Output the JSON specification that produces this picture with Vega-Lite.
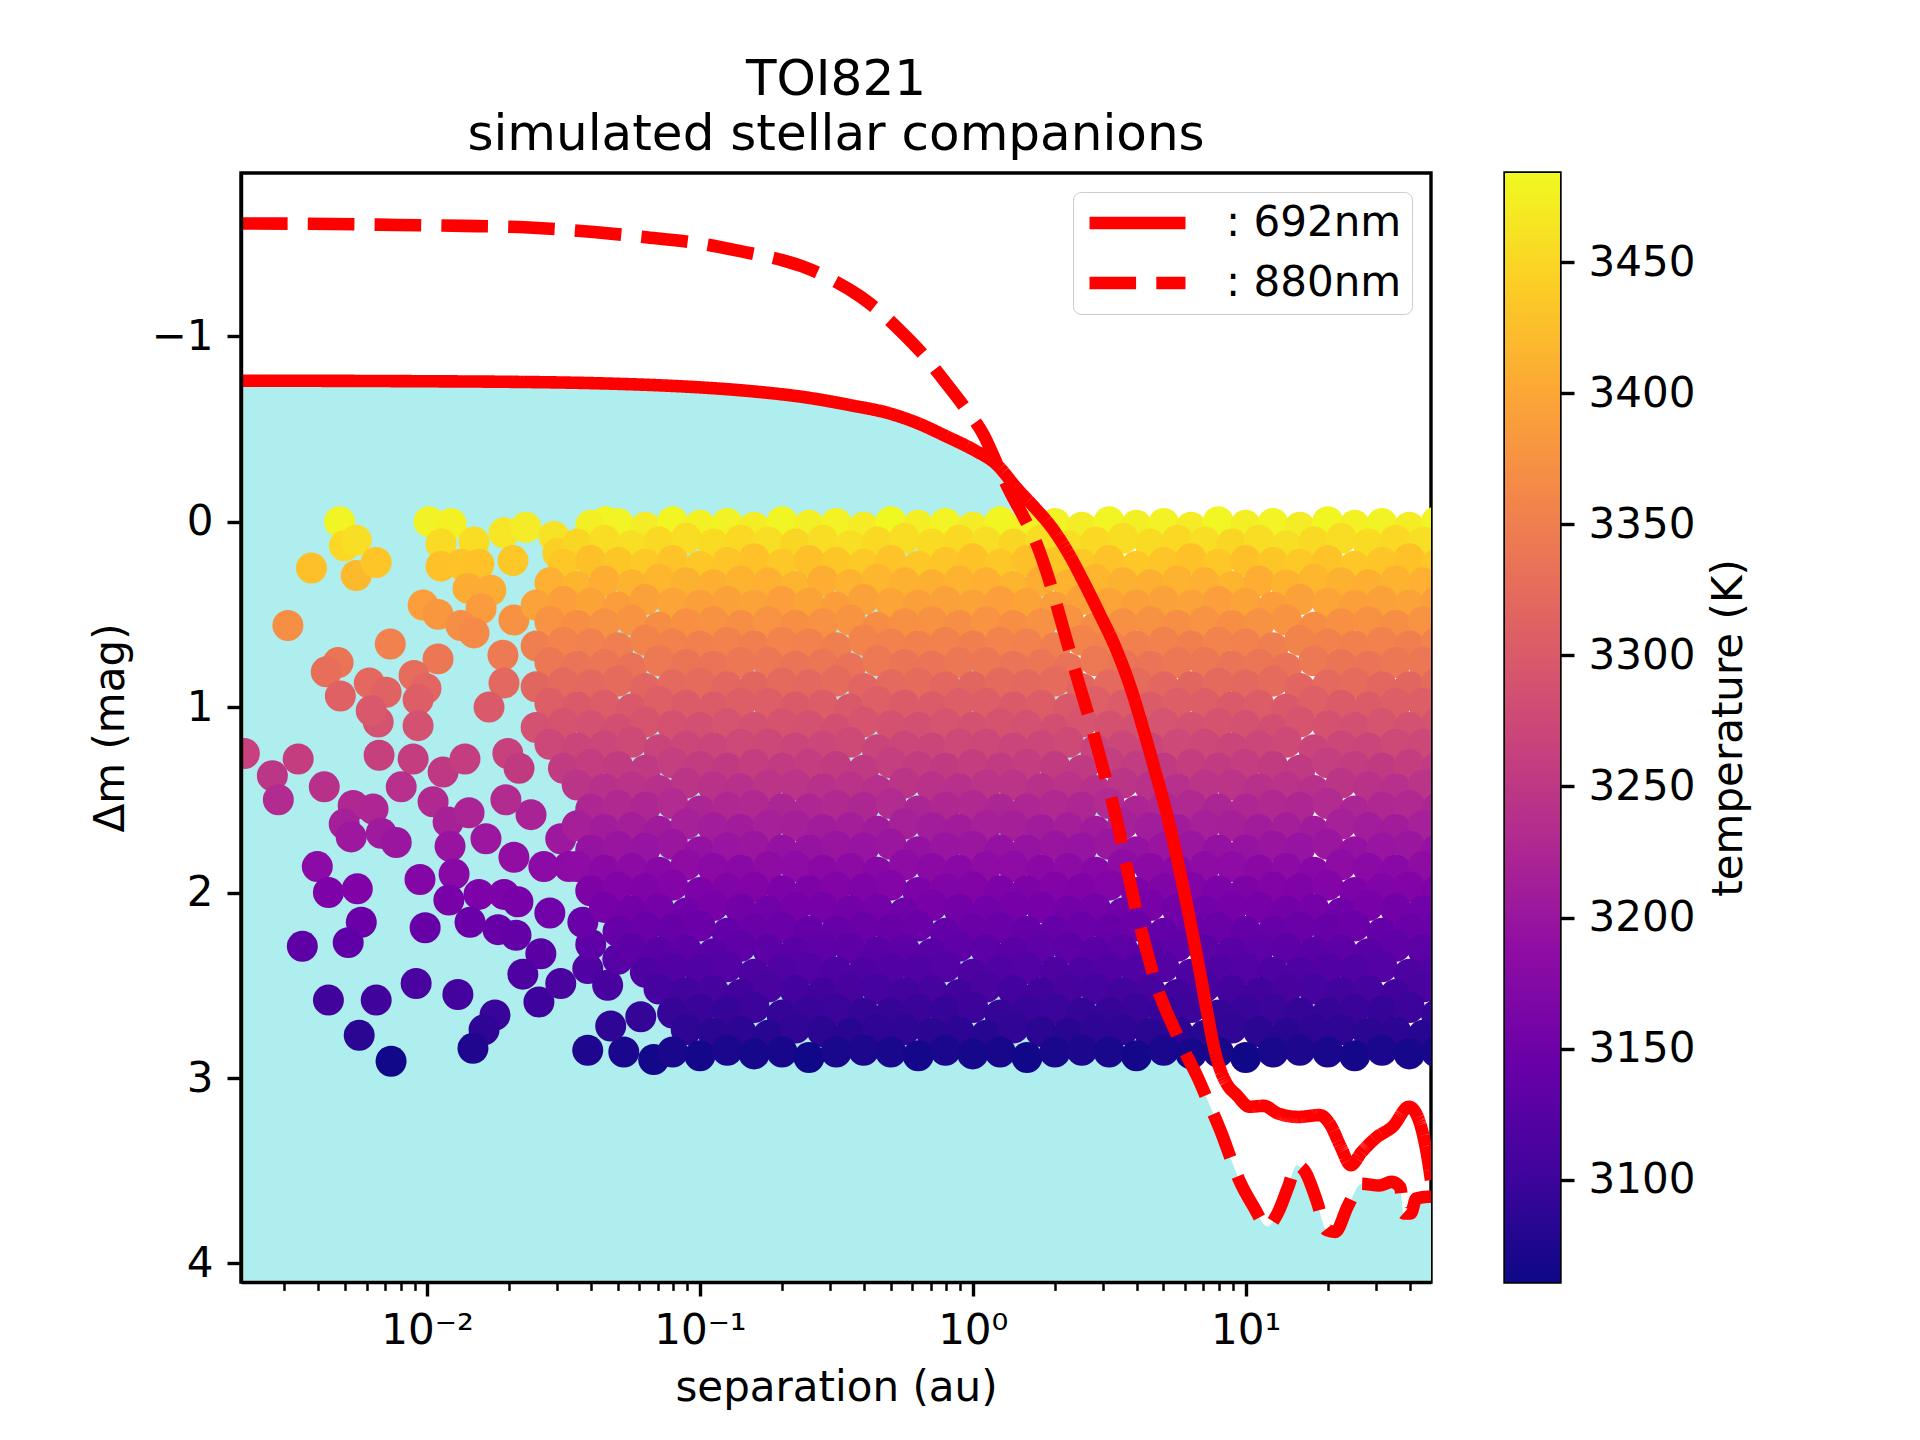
{
"$schema":"https://vega.github.io/schema/vega-lite/v6.json",
"background":"white",
"padding":{"left":87,"top":53,"right":10,"bottom":10},
"config":{
"font":"DejaVu Sans",
"view":{"stroke":"black","strokeWidth":3.4},
"axis":{"labelFont":"DejaVu Sans","titleFont":"DejaVu Sans","labelFontSize":42,"titleFontSize":42,"titleFontWeight":"normal","labelColor":"black","titleColor":"black","tickColor":"black","domainColor":"black","grid":false},
"legend":{"labelFont":"DejaVu Sans","labelFontSize":42,"labelColor":"black"},
"title":{"font":"DejaVu Sans","fontSize":50,"fontWeight":"normal","color":"black"}
},
"datasets":{
"pts":[
{"sep":0.00478,"dm":0,"T":3480},{"sep":0.00498,"dm":0.13,"T":3452},{"sep":0.0055,"dm":0.1,"T":3458},{"sep":0.00377,"dm":0.25,"T":3428},{"sep":0.0055,"dm":0.29,"T":3420},{"sep":0.00651,"dm":0.22,"T":3433},{"sep":0.00309,"dm":0.56,"T":3371},{"sep":0.01017,"dm":0,"T":3478},{"sep":0.01225,"dm":0.01,"T":3476},{"sep":0.01125,"dm":0.12,"T":3454},{"sep":0.01486,"dm":0.11,"T":3456},{"sep":0.01914,"dm":0.06,"T":3466},{"sep":0.02302,"dm":0.03,"T":3472},{"sep":0.01125,"dm":0.24,"T":3429},{"sep":0.01331,"dm":0.23,"T":3431},{"sep":0.01549,"dm":0.23,"T":3430},{"sep":0.02065,"dm":0.21,"T":3435},{"sep":0.02917,"dm":0.08,"T":3462},{"sep":0.03014,"dm":0.17,"T":3443},{"sep":0.04519,"dm":0,"T":3479},
{"sep":0.01412,"dm":0.36,"T":3406},{"sep":0.01713,"dm":0.37,"T":3405},{"sep":0.00967,"dm":0.45,"T":3390},{"sep":0.01097,"dm":0.5,"T":3381},{"sep":0.01577,"dm":0.47,"T":3386},{"sep":0.02081,"dm":0.53,"T":3375},{"sep":0.01331,"dm":0.56,"T":3370},{"sep":0.01486,"dm":0.6,"T":3364},{"sep":0.00733,"dm":0.66,"T":3354},{"sep":0.01897,"dm":0.72,"T":3344},{"sep":0.01097,"dm":0.74,"T":3340},{"sep":0.00472,"dm":0.76,"T":3337},{"sep":0.00427,"dm":0.81,"T":3330},{"sep":0.00481,"dm":0.94,"T":3310},{"sep":0.00614,"dm":0.87,"T":3321},{"sep":0.00708,"dm":0.92,"T":3313},{"sep":0.00896,"dm":0.83,"T":3327},{"sep":0.00991,"dm":0.9,"T":3316},{"sep":0.00927,"dm":0.96,"T":3306},{"sep":0.01914,"dm":0.87,"T":3320},
{"sep":0.01687,"dm":1,"T":3300},{"sep":0.00662,"dm":1.08,"T":3289},{"sep":0.00624,"dm":1.02,"T":3298},{"sep":0.00927,"dm":1.1,"T":3286},{"sep":0.00214,"dm":1.25,"T":3264},{"sep":0.00337,"dm":1.28,"T":3260},{"sep":0.00271,"dm":1.37,"T":3248},{"sep":0.00285,"dm":1.5,"T":3231},{"sep":0.00667,"dm":1.26,"T":3263},{"sep":0.00889,"dm":1.28,"T":3260},{"sep":0.01145,"dm":1.35,"T":3251},{"sep":0.01377,"dm":1.28,"T":3259},{"sep":0.0042,"dm":1.43,"T":3240},{"sep":0.00804,"dm":1.43,"T":3239},{"sep":0.01052,"dm":1.51,"T":3229},{"sep":0.00536,"dm":1.53,"T":3227},{"sep":0.00634,"dm":1.55,"T":3224},{"sep":0.00497,"dm":1.63,"T":3213},{"sep":0.00527,"dm":1.7,"T":3203},{"sep":0.00679,"dm":1.68,"T":3206},
{"sep":0.00771,"dm":1.73,"T":3200},{"sep":0.01194,"dm":1.62,"T":3215},{"sep":0.01425,"dm":1.57,"T":3221},{"sep":0.01214,"dm":1.75,"T":3197},{"sep":0.01644,"dm":1.71,"T":3202},{"sep":0.00396,"dm":1.86,"T":3183},{"sep":0.00435,"dm":2,"T":3166},{"sep":0.00555,"dm":1.98,"T":3168},{"sep":0.00942,"dm":1.93,"T":3175},{"sep":0.01256,"dm":1.9,"T":3179},{"sep":0.01202,"dm":2.04,"T":3161},{"sep":0.00574,"dm":2.16,"T":3147},{"sep":0.00514,"dm":2.27,"T":3134},{"sep":0.00349,"dm":2.29,"T":3132},{"sep":0.00984,"dm":2.19,"T":3143},{"sep":0.01549,"dm":2.01,"T":3165},{"sep":0.01914,"dm":2.01,"T":3166},{"sep":0.02153,"dm":2.05,"T":3160},{"sep":0.01437,"dm":2.16,"T":3146},{"sep":0.0182,"dm":2.2,"T":3142},
{"sep":0.02118,"dm":2.23,"T":3138},{"sep":0.02612,"dm":2.33,"T":3128},{"sep":0.02818,"dm":2.11,"T":3153},{"sep":0.00435,"dm":2.58,"T":3103},{"sep":0.00651,"dm":2.58,"T":3102},{"sep":0.00912,"dm":2.49,"T":3111},{"sep":0.01297,"dm":2.55,"T":3105},{"sep":0.00564,"dm":2.77,"T":3082},{"sep":0.00738,"dm":2.91,"T":3063},{"sep":0.01774,"dm":2.66,"T":3094},{"sep":0.01618,"dm":2.74,"T":3086},{"sep":0.01473,"dm":2.84,"T":3073},{"sep":0.02244,"dm":2.44,"T":3116},{"sep":0.0257,"dm":2.59,"T":3100},{"sep":0.0309,"dm":2.49,"T":3110},{"sep":0.03882,"dm":2.41,"T":3119},{"sep":0.03981,"dm":2.28,"T":3133},{"sep":0.03724,"dm":2.16,"T":3146},{"sep":0.02404,"dm":1.58,"T":3220},{"sep":0.0309,"dm":1.71,"T":3203},
{"sep":0.03311,"dm":1.86,"T":3184},{"sep":0.02081,"dm":1.81,"T":3190},{"sep":0.02679,"dm":1.86,"T":3183},{"sep":0.01977,"dm":1.25,"T":3265},{"sep":0.02173,"dm":1.33,"T":3254},{"sep":0.01945,"dm":1.5,"T":3232},{"sep":0.0388,"dm":2.85,"T":3072},{"sep":0.0459,"dm":2.5,"T":3109},{"sep":0.05,"dm":2.36,"T":3124},{"sep":0.0526,"dm":2.86,"T":3070},{"sep":0.0607,"dm":2.67,"T":3091},{"sep":0.0677,"dm":2.9,"T":3065},{"sep":0.0471,"dm":2.72,"T":3086},{"sep":0.0718,"dm":2.45,"T":3114},
{"sep":0.0398,"dm":0.02,"T":3475},{"sep":0.0501,"dm":0.01,"T":3479},{"sep":0.0631,"dm":0.03,"T":3472},{"sep":0.0794,"dm":0,"T":3481},{"sep":0.1,"dm":0.02,"T":3476},{"sep":0.126,"dm":0.01,"T":3478},{"sep":0.158,"dm":0.03,"T":3473},{"sep":0.2,"dm":0,"T":3480},{"sep":0.251,"dm":0.02,"T":3475},{"sep":0.316,"dm":0.01,"T":3477},{"sep":0.398,"dm":0.03,"T":3471},{"sep":0.501,"dm":0,"T":3483},{"sep":0.631,"dm":0.02,"T":3474},{"sep":0.794,"dm":0.01,"T":3479},{"sep":1,"dm":0.03,"T":3472},{"sep":1.26,"dm":0,"T":3481},{"sep":1.58,"dm":0.02,"T":3476},{"sep":2,"dm":0.01,"T":3478},{"sep":2.51,"dm":0.03,"T":3473},{"sep":3.16,"dm":0,"T":3480},{"sep":3.98,"dm":0.02,"T":3475},{"sep":5.01,"dm":0.01,"T":3477},{"sep":6.31,"dm":0.03,"T":3471},{"sep":7.94,"dm":0,"T":3482},{"sep":10,"dm":0.02,"T":3474},{"sep":12.6,"dm":0.01,"T":3479},{"sep":15.8,"dm":0.03,"T":3472},{"sep":20,"dm":0,"T":3481},{"sep":25.1,"dm":0.02,"T":3476},{"sep":31.6,"dm":0.01,"T":3478},{"sep":39.8,"dm":0.03,"T":3473},{"sep":50.1,"dm":0,"T":3480},
{"sep":0.0355,"dm":0.12,"T":3450},{"sep":0.0447,"dm":0.1,"T":3456},{"sep":0.0562,"dm":0.13,"T":3459},{"sep":0.0708,"dm":0.11,"T":3453},{"sep":0.0891,"dm":0.09,"T":3457},{"sep":0.112,"dm":0.12,"T":3455},{"sep":0.141,"dm":0.1,"T":3452},{"sep":0.178,"dm":0.11,"T":3458},{"sep":0.224,"dm":0.12,"T":3450},{"sep":0.282,"dm":0.1,"T":3456},{"sep":0.355,"dm":0.13,"T":3459},{"sep":0.447,"dm":0.11,"T":3453},{"sep":0.562,"dm":0.09,"T":3457},{"sep":0.708,"dm":0.12,"T":3455},{"sep":0.891,"dm":0.1,"T":3452},{"sep":1.12,"dm":0.11,"T":3458},{"sep":1.41,"dm":0.12,"T":3450},{"sep":1.78,"dm":0.1,"T":3456},{"sep":2.24,"dm":0.13,"T":3459},{"sep":2.82,"dm":0.11,"T":3453},{"sep":3.55,"dm":0.09,"T":3457},{"sep":4.47,"dm":0.12,"T":3455},{"sep":5.62,"dm":0.1,"T":3452},{"sep":7.08,"dm":0.11,"T":3458},{"sep":8.91,"dm":0.12,"T":3450},{"sep":11.2,"dm":0.1,"T":3456},{"sep":14.1,"dm":0.13,"T":3459},{"sep":17.8,"dm":0.11,"T":3453},{"sep":22.4,"dm":0.09,"T":3457},{"sep":28.2,"dm":0.12,"T":3455},{"sep":35.5,"dm":0.1,"T":3452},{"sep":44.7,"dm":0.11,"T":3458},
{"sep":0.0316,"dm":0.23,"T":3436},{"sep":0.0398,"dm":0.21,"T":3428},{"sep":0.0501,"dm":0.22,"T":3434},{"sep":0.0631,"dm":0.23,"T":3437},{"sep":0.0794,"dm":0.21,"T":3431},{"sep":0.1,"dm":0.24,"T":3435},{"sep":0.126,"dm":0.22,"T":3433},{"sep":0.158,"dm":0.2,"T":3430},{"sep":0.2,"dm":0.23,"T":3436},{"sep":0.251,"dm":0.21,"T":3428},{"sep":0.316,"dm":0.22,"T":3434},{"sep":0.398,"dm":0.23,"T":3437},{"sep":0.501,"dm":0.21,"T":3431},{"sep":0.631,"dm":0.24,"T":3435},{"sep":0.794,"dm":0.22,"T":3433},{"sep":1,"dm":0.2,"T":3430},{"sep":1.26,"dm":0.23,"T":3436},{"sep":1.58,"dm":0.21,"T":3428},{"sep":2,"dm":0.22,"T":3434},{"sep":2.51,"dm":0.23,"T":3437},{"sep":3.16,"dm":0.21,"T":3431},{"sep":3.98,"dm":0.24,"T":3435},{"sep":5.01,"dm":0.22,"T":3433},{"sep":6.31,"dm":0.2,"T":3430},{"sep":7.94,"dm":0.23,"T":3436},{"sep":10,"dm":0.21,"T":3428},{"sep":12.6,"dm":0.22,"T":3434},{"sep":15.8,"dm":0.23,"T":3437},{"sep":20,"dm":0.21,"T":3431},{"sep":25.1,"dm":0.24,"T":3435},{"sep":31.6,"dm":0.22,"T":3433},{"sep":39.8,"dm":0.2,"T":3430},{"sep":50.1,"dm":0.23,"T":3436},
{"sep":0.0282,"dm":0.33,"T":3410},{"sep":0.0355,"dm":0.35,"T":3415},{"sep":0.0447,"dm":0.32,"T":3408},{"sep":0.0562,"dm":0.34,"T":3413},{"sep":0.0708,"dm":0.31,"T":3417},{"sep":0.0891,"dm":0.33,"T":3411},{"sep":0.112,"dm":0.34,"T":3409},{"sep":0.141,"dm":0.32,"T":3414},{"sep":0.178,"dm":0.33,"T":3410},{"sep":0.224,"dm":0.35,"T":3415},{"sep":0.282,"dm":0.32,"T":3408},{"sep":0.355,"dm":0.34,"T":3413},{"sep":0.447,"dm":0.31,"T":3417},{"sep":0.562,"dm":0.33,"T":3411},{"sep":0.708,"dm":0.34,"T":3409},{"sep":0.891,"dm":0.32,"T":3414},{"sep":1.12,"dm":0.33,"T":3410},{"sep":1.41,"dm":0.35,"T":3415},{"sep":1.78,"dm":0.32,"T":3408},{"sep":2.24,"dm":0.34,"T":3413},{"sep":2.82,"dm":0.31,"T":3417},{"sep":3.55,"dm":0.33,"T":3411},{"sep":4.47,"dm":0.34,"T":3409},{"sep":5.62,"dm":0.32,"T":3414},{"sep":7.08,"dm":0.33,"T":3410},{"sep":8.91,"dm":0.35,"T":3415},{"sep":11.2,"dm":0.32,"T":3408},{"sep":14.1,"dm":0.34,"T":3413},{"sep":17.8,"dm":0.31,"T":3417},{"sep":22.4,"dm":0.33,"T":3411},{"sep":28.2,"dm":0.34,"T":3409},{"sep":35.5,"dm":0.32,"T":3414},{"sep":44.7,"dm":0.33,"T":3410},
{"sep":0.0251,"dm":0.45,"T":3395},{"sep":0.0316,"dm":0.43,"T":3390},{"sep":0.0398,"dm":0.44,"T":3396},{"sep":0.0501,"dm":0.46,"T":3389},{"sep":0.0631,"dm":0.42,"T":3393},{"sep":0.0794,"dm":0.44,"T":3397},{"sep":0.1,"dm":0.45,"T":3391},{"sep":0.126,"dm":0.43,"T":3394},{"sep":0.158,"dm":0.45,"T":3395},{"sep":0.2,"dm":0.43,"T":3390},{"sep":0.251,"dm":0.44,"T":3396},{"sep":0.316,"dm":0.46,"T":3389},{"sep":0.398,"dm":0.42,"T":3393},{"sep":0.501,"dm":0.44,"T":3397},{"sep":0.631,"dm":0.45,"T":3391},{"sep":0.794,"dm":0.43,"T":3394},{"sep":1,"dm":0.45,"T":3395},{"sep":1.26,"dm":0.43,"T":3390},{"sep":1.58,"dm":0.44,"T":3396},{"sep":2,"dm":0.46,"T":3389},{"sep":2.51,"dm":0.42,"T":3393},{"sep":3.16,"dm":0.44,"T":3397},{"sep":3.98,"dm":0.45,"T":3391},{"sep":5.01,"dm":0.43,"T":3394},{"sep":6.31,"dm":0.45,"T":3395},{"sep":7.94,"dm":0.43,"T":3390},{"sep":10,"dm":0.44,"T":3396},{"sep":12.6,"dm":0.46,"T":3389},{"sep":15.8,"dm":0.42,"T":3393},{"sep":20,"dm":0.44,"T":3397},{"sep":25.1,"dm":0.45,"T":3391},{"sep":31.6,"dm":0.43,"T":3394},{"sep":39.8,"dm":0.45,"T":3395},{"sep":50.1,"dm":0.43,"T":3390},
{"sep":0.0282,"dm":0.54,"T":3376},{"sep":0.0355,"dm":0.56,"T":3371},{"sep":0.0447,"dm":0.55,"T":3374},{"sep":0.0562,"dm":0.53,"T":3378},{"sep":0.0708,"dm":0.57,"T":3369},{"sep":0.0891,"dm":0.55,"T":3373},{"sep":0.112,"dm":0.54,"T":3375},{"sep":0.141,"dm":0.56,"T":3370},{"sep":0.178,"dm":0.54,"T":3376},{"sep":0.224,"dm":0.56,"T":3371},{"sep":0.282,"dm":0.55,"T":3374},{"sep":0.355,"dm":0.53,"T":3378},{"sep":0.447,"dm":0.57,"T":3369},{"sep":0.562,"dm":0.55,"T":3373},{"sep":0.708,"dm":0.54,"T":3375},{"sep":0.891,"dm":0.56,"T":3370},{"sep":1.12,"dm":0.54,"T":3376},{"sep":1.41,"dm":0.56,"T":3371},{"sep":1.78,"dm":0.55,"T":3374},{"sep":2.24,"dm":0.53,"T":3378},{"sep":2.82,"dm":0.57,"T":3369},{"sep":3.55,"dm":0.55,"T":3373},{"sep":4.47,"dm":0.54,"T":3375},{"sep":5.62,"dm":0.56,"T":3370},{"sep":7.08,"dm":0.54,"T":3376},{"sep":8.91,"dm":0.56,"T":3371},{"sep":11.2,"dm":0.55,"T":3374},{"sep":14.1,"dm":0.53,"T":3378},{"sep":17.8,"dm":0.57,"T":3369},{"sep":22.4,"dm":0.55,"T":3373},{"sep":28.2,"dm":0.54,"T":3375},{"sep":35.5,"dm":0.56,"T":3370},{"sep":44.7,"dm":0.54,"T":3376},
{"sep":0.0251,"dm":0.67,"T":3352},{"sep":0.0316,"dm":0.65,"T":3357},{"sep":0.0398,"dm":0.66,"T":3354},{"sep":0.0501,"dm":0.68,"T":3350},{"sep":0.0631,"dm":0.64,"T":3358},{"sep":0.0794,"dm":0.66,"T":3355},{"sep":0.1,"dm":0.67,"T":3353},{"sep":0.126,"dm":0.65,"T":3356},{"sep":0.158,"dm":0.67,"T":3352},{"sep":0.2,"dm":0.65,"T":3357},{"sep":0.251,"dm":0.66,"T":3354},{"sep":0.316,"dm":0.68,"T":3350},{"sep":0.398,"dm":0.64,"T":3358},{"sep":0.501,"dm":0.66,"T":3355},{"sep":0.631,"dm":0.67,"T":3353},{"sep":0.794,"dm":0.65,"T":3356},{"sep":1,"dm":0.67,"T":3352},{"sep":1.26,"dm":0.65,"T":3357},{"sep":1.58,"dm":0.66,"T":3354},{"sep":2,"dm":0.68,"T":3350},{"sep":2.51,"dm":0.64,"T":3358},{"sep":3.16,"dm":0.66,"T":3355},{"sep":3.98,"dm":0.67,"T":3353},{"sep":5.01,"dm":0.65,"T":3356},{"sep":6.31,"dm":0.67,"T":3352},{"sep":7.94,"dm":0.65,"T":3357},{"sep":10,"dm":0.66,"T":3354},{"sep":12.6,"dm":0.68,"T":3350},{"sep":15.8,"dm":0.64,"T":3358},{"sep":20,"dm":0.66,"T":3355},{"sep":25.1,"dm":0.67,"T":3353},{"sep":31.6,"dm":0.65,"T":3356},{"sep":39.8,"dm":0.67,"T":3352},{"sep":50.1,"dm":0.65,"T":3357},
{"sep":0.0282,"dm":0.76,"T":3340},{"sep":0.0355,"dm":0.78,"T":3336},{"sep":0.0447,"dm":0.77,"T":3339},{"sep":0.0562,"dm":0.79,"T":3334},{"sep":0.0708,"dm":0.75,"T":3342},{"sep":0.0891,"dm":0.77,"T":3337},{"sep":0.112,"dm":0.78,"T":3335},{"sep":0.141,"dm":0.76,"T":3341},{"sep":0.178,"dm":0.76,"T":3340},{"sep":0.224,"dm":0.78,"T":3336},{"sep":0.282,"dm":0.77,"T":3339},{"sep":0.355,"dm":0.79,"T":3334},{"sep":0.447,"dm":0.75,"T":3342},{"sep":0.562,"dm":0.77,"T":3337},{"sep":0.708,"dm":0.78,"T":3335},{"sep":0.891,"dm":0.76,"T":3341},{"sep":1.12,"dm":0.76,"T":3340},{"sep":1.41,"dm":0.78,"T":3336},{"sep":1.78,"dm":0.77,"T":3339},{"sep":2.24,"dm":0.79,"T":3334},{"sep":2.82,"dm":0.75,"T":3342},{"sep":3.55,"dm":0.77,"T":3337},{"sep":4.47,"dm":0.78,"T":3335},{"sep":5.62,"dm":0.76,"T":3341},{"sep":7.08,"dm":0.76,"T":3340},{"sep":8.91,"dm":0.78,"T":3336},{"sep":11.2,"dm":0.77,"T":3339},{"sep":14.1,"dm":0.79,"T":3334},{"sep":17.8,"dm":0.75,"T":3342},{"sep":22.4,"dm":0.77,"T":3337},{"sep":28.2,"dm":0.78,"T":3335},{"sep":35.5,"dm":0.76,"T":3341},{"sep":44.7,"dm":0.76,"T":3340},
{"sep":0.0251,"dm":0.89,"T":3318},{"sep":0.0316,"dm":0.87,"T":3323},{"sep":0.0398,"dm":0.88,"T":3320},{"sep":0.0501,"dm":0.86,"T":3325},{"sep":0.0631,"dm":0.9,"T":3316},{"sep":0.0794,"dm":0.88,"T":3322},{"sep":0.1,"dm":0.87,"T":3324},{"sep":0.126,"dm":0.89,"T":3319},{"sep":0.158,"dm":0.89,"T":3318},{"sep":0.2,"dm":0.87,"T":3323},{"sep":0.251,"dm":0.88,"T":3320},{"sep":0.316,"dm":0.86,"T":3325},{"sep":0.398,"dm":0.9,"T":3316},{"sep":0.501,"dm":0.88,"T":3322},{"sep":0.631,"dm":0.87,"T":3324},{"sep":0.794,"dm":0.89,"T":3319},{"sep":1,"dm":0.89,"T":3318},{"sep":1.26,"dm":0.87,"T":3323},{"sep":1.58,"dm":0.88,"T":3320},{"sep":2,"dm":0.86,"T":3325},{"sep":2.51,"dm":0.9,"T":3316},{"sep":3.16,"dm":0.88,"T":3322},{"sep":3.98,"dm":0.87,"T":3324},{"sep":5.01,"dm":0.89,"T":3319},{"sep":6.31,"dm":0.89,"T":3318},{"sep":7.94,"dm":0.87,"T":3323},{"sep":10,"dm":0.88,"T":3320},{"sep":12.6,"dm":0.86,"T":3325},{"sep":15.8,"dm":0.9,"T":3316},{"sep":20,"dm":0.88,"T":3322},{"sep":25.1,"dm":0.87,"T":3324},{"sep":31.6,"dm":0.89,"T":3319},{"sep":39.8,"dm":0.89,"T":3318},{"sep":50.1,"dm":0.87,"T":3323},
{"sep":0.0282,"dm":0.98,"T":3306},{"sep":0.0355,"dm":1,"T":3301},{"sep":0.0447,"dm":0.99,"T":3305},{"sep":0.0562,"dm":1.01,"T":3299},{"sep":0.0708,"dm":0.97,"T":3308},{"sep":0.0891,"dm":0.99,"T":3303},{"sep":0.112,"dm":1,"T":3302},{"sep":0.141,"dm":0.98,"T":3307},{"sep":0.178,"dm":0.98,"T":3306},{"sep":0.224,"dm":1,"T":3301},{"sep":0.282,"dm":0.99,"T":3305},{"sep":0.355,"dm":1.01,"T":3299},{"sep":0.447,"dm":0.97,"T":3308},{"sep":0.562,"dm":0.99,"T":3303},{"sep":0.708,"dm":1,"T":3302},{"sep":0.891,"dm":0.98,"T":3307},{"sep":1.12,"dm":0.98,"T":3306},{"sep":1.41,"dm":1,"T":3301},{"sep":1.78,"dm":0.99,"T":3305},{"sep":2.24,"dm":1.01,"T":3299},{"sep":2.82,"dm":0.97,"T":3308},{"sep":3.55,"dm":0.99,"T":3303},{"sep":4.47,"dm":1,"T":3302},{"sep":5.62,"dm":0.98,"T":3307},{"sep":7.08,"dm":0.98,"T":3306},{"sep":8.91,"dm":1,"T":3301},{"sep":11.2,"dm":0.99,"T":3305},{"sep":14.1,"dm":1.01,"T":3299},{"sep":17.8,"dm":0.97,"T":3308},{"sep":22.4,"dm":0.99,"T":3303},{"sep":28.2,"dm":1,"T":3302},{"sep":35.5,"dm":0.98,"T":3307},{"sep":44.7,"dm":0.98,"T":3306},
{"sep":0.0251,"dm":1.11,"T":3286},{"sep":0.0316,"dm":1.09,"T":3290},{"sep":0.0398,"dm":1.1,"T":3287},{"sep":0.0501,"dm":1.12,"T":3284},{"sep":0.0631,"dm":1.08,"T":3292},{"sep":0.0794,"dm":1.1,"T":3288},{"sep":0.1,"dm":1.11,"T":3285},{"sep":0.126,"dm":1.09,"T":3291},{"sep":0.158,"dm":1.11,"T":3286},{"sep":0.2,"dm":1.09,"T":3290},{"sep":0.251,"dm":1.1,"T":3287},{"sep":0.316,"dm":1.12,"T":3284},{"sep":0.398,"dm":1.08,"T":3292},{"sep":0.501,"dm":1.1,"T":3288},{"sep":0.631,"dm":1.11,"T":3285},{"sep":0.794,"dm":1.09,"T":3291},{"sep":1,"dm":1.11,"T":3286},{"sep":1.26,"dm":1.09,"T":3290},{"sep":1.58,"dm":1.1,"T":3287},{"sep":2,"dm":1.12,"T":3284},{"sep":2.51,"dm":1.08,"T":3292},{"sep":3.16,"dm":1.1,"T":3288},{"sep":3.98,"dm":1.11,"T":3285},{"sep":5.01,"dm":1.09,"T":3291},{"sep":6.31,"dm":1.11,"T":3286},{"sep":7.94,"dm":1.09,"T":3290},{"sep":10,"dm":1.1,"T":3287},{"sep":12.6,"dm":1.12,"T":3284},{"sep":15.8,"dm":1.08,"T":3292},{"sep":20,"dm":1.1,"T":3288},{"sep":25.1,"dm":1.11,"T":3285},{"sep":31.6,"dm":1.09,"T":3291},{"sep":39.8,"dm":1.11,"T":3286},{"sep":50.1,"dm":1.09,"T":3290},
{"sep":0.0282,"dm":1.2,"T":3274},{"sep":0.0355,"dm":1.22,"T":3270},{"sep":0.0447,"dm":1.21,"T":3273},{"sep":0.0562,"dm":1.19,"T":3277},{"sep":0.0708,"dm":1.23,"T":3268},{"sep":0.0891,"dm":1.21,"T":3272},{"sep":0.112,"dm":1.22,"T":3271},{"sep":0.141,"dm":1.2,"T":3275},{"sep":0.178,"dm":1.2,"T":3274},{"sep":0.224,"dm":1.22,"T":3270},{"sep":0.282,"dm":1.21,"T":3273},{"sep":0.355,"dm":1.19,"T":3277},{"sep":0.447,"dm":1.23,"T":3268},{"sep":0.562,"dm":1.21,"T":3272},{"sep":0.708,"dm":1.22,"T":3271},{"sep":0.891,"dm":1.2,"T":3275},{"sep":1.12,"dm":1.2,"T":3274},{"sep":1.41,"dm":1.22,"T":3270},{"sep":1.78,"dm":1.21,"T":3273},{"sep":2.24,"dm":1.19,"T":3277},{"sep":2.82,"dm":1.23,"T":3268},{"sep":3.55,"dm":1.21,"T":3272},{"sep":4.47,"dm":1.22,"T":3271},{"sep":5.62,"dm":1.2,"T":3275},{"sep":7.08,"dm":1.2,"T":3274},{"sep":8.91,"dm":1.22,"T":3270},{"sep":11.2,"dm":1.21,"T":3273},{"sep":14.1,"dm":1.19,"T":3277},{"sep":17.8,"dm":1.23,"T":3268},{"sep":22.4,"dm":1.21,"T":3272},{"sep":28.2,"dm":1.22,"T":3271},{"sep":35.5,"dm":1.2,"T":3275},{"sep":44.7,"dm":1.2,"T":3274},
{"sep":0.0316,"dm":1.33,"T":3255},{"sep":0.0398,"dm":1.31,"T":3259},{"sep":0.0501,"dm":1.32,"T":3256},{"sep":0.0631,"dm":1.34,"T":3253},{"sep":0.0794,"dm":1.3,"T":3261},{"sep":0.1,"dm":1.32,"T":3257},{"sep":0.126,"dm":1.33,"T":3254},{"sep":0.158,"dm":1.31,"T":3260},{"sep":0.2,"dm":1.33,"T":3255},{"sep":0.251,"dm":1.31,"T":3259},{"sep":0.316,"dm":1.32,"T":3256},{"sep":0.398,"dm":1.34,"T":3253},{"sep":0.501,"dm":1.3,"T":3261},{"sep":0.631,"dm":1.32,"T":3257},{"sep":0.794,"dm":1.33,"T":3254},{"sep":1,"dm":1.31,"T":3260},{"sep":1.26,"dm":1.33,"T":3255},{"sep":1.58,"dm":1.31,"T":3259},{"sep":2,"dm":1.32,"T":3256},{"sep":2.51,"dm":1.34,"T":3253},{"sep":3.16,"dm":1.3,"T":3261},{"sep":3.98,"dm":1.32,"T":3257},{"sep":5.01,"dm":1.33,"T":3254},{"sep":6.31,"dm":1.31,"T":3260},{"sep":7.94,"dm":1.33,"T":3255},{"sep":10,"dm":1.31,"T":3259},{"sep":12.6,"dm":1.32,"T":3256},{"sep":15.8,"dm":1.34,"T":3253},{"sep":20,"dm":1.3,"T":3261},{"sep":25.1,"dm":1.32,"T":3257},{"sep":31.6,"dm":1.33,"T":3254},{"sep":39.8,"dm":1.31,"T":3260},{"sep":50.1,"dm":1.33,"T":3255},
{"sep":0.0355,"dm":1.42,"T":3244},{"sep":0.0447,"dm":1.44,"T":3240},{"sep":0.0562,"dm":1.43,"T":3243},{"sep":0.0708,"dm":1.45,"T":3238},{"sep":0.0891,"dm":1.41,"T":3246},{"sep":0.112,"dm":1.43,"T":3241},{"sep":0.141,"dm":1.44,"T":3239},{"sep":0.178,"dm":1.42,"T":3245},{"sep":0.224,"dm":1.42,"T":3244},{"sep":0.282,"dm":1.44,"T":3240},{"sep":0.355,"dm":1.43,"T":3243},{"sep":0.447,"dm":1.45,"T":3238},{"sep":0.562,"dm":1.41,"T":3246},{"sep":0.708,"dm":1.43,"T":3241},{"sep":0.891,"dm":1.44,"T":3239},{"sep":1.12,"dm":1.42,"T":3245},{"sep":1.41,"dm":1.42,"T":3244},{"sep":1.78,"dm":1.44,"T":3240},{"sep":2.24,"dm":1.43,"T":3243},{"sep":2.82,"dm":1.45,"T":3238},{"sep":3.55,"dm":1.41,"T":3246},{"sep":4.47,"dm":1.43,"T":3241},{"sep":5.62,"dm":1.44,"T":3239},{"sep":7.08,"dm":1.42,"T":3245},{"sep":8.91,"dm":1.42,"T":3244},{"sep":11.2,"dm":1.44,"T":3240},{"sep":14.1,"dm":1.43,"T":3243},{"sep":17.8,"dm":1.45,"T":3238},{"sep":22.4,"dm":1.41,"T":3246},{"sep":28.2,"dm":1.43,"T":3241},{"sep":35.5,"dm":1.44,"T":3239},{"sep":44.7,"dm":1.42,"T":3245},
{"sep":0.0398,"dm":1.55,"T":3224},{"sep":0.0501,"dm":1.53,"T":3229},{"sep":0.0631,"dm":1.54,"T":3225},{"sep":0.0794,"dm":1.52,"T":3231},{"sep":0.1,"dm":1.56,"T":3222},{"sep":0.126,"dm":1.54,"T":3227},{"sep":0.158,"dm":1.53,"T":3228},{"sep":0.2,"dm":1.55,"T":3223},{"sep":0.251,"dm":1.55,"T":3224},{"sep":0.316,"dm":1.53,"T":3229},{"sep":0.398,"dm":1.54,"T":3225},{"sep":0.501,"dm":1.52,"T":3231},{"sep":0.631,"dm":1.56,"T":3222},{"sep":0.794,"dm":1.54,"T":3227},{"sep":1,"dm":1.53,"T":3228},{"sep":1.26,"dm":1.55,"T":3223},{"sep":1.58,"dm":1.55,"T":3224},{"sep":2,"dm":1.53,"T":3229},{"sep":2.51,"dm":1.54,"T":3225},{"sep":3.16,"dm":1.52,"T":3231},{"sep":3.98,"dm":1.56,"T":3222},{"sep":5.01,"dm":1.54,"T":3227},{"sep":6.31,"dm":1.53,"T":3228},{"sep":7.94,"dm":1.55,"T":3223},{"sep":10,"dm":1.55,"T":3224},{"sep":12.6,"dm":1.53,"T":3229},{"sep":15.8,"dm":1.54,"T":3225},{"sep":20,"dm":1.52,"T":3231},{"sep":25.1,"dm":1.56,"T":3222},{"sep":31.6,"dm":1.54,"T":3227},{"sep":39.8,"dm":1.53,"T":3228},{"sep":50.1,"dm":1.55,"T":3223},
{"sep":0.0355,"dm":1.64,"T":3213},{"sep":0.0447,"dm":1.66,"T":3209},{"sep":0.0562,"dm":1.65,"T":3212},{"sep":0.0708,"dm":1.67,"T":3207},{"sep":0.0891,"dm":1.63,"T":3215},{"sep":0.112,"dm":1.65,"T":3210},{"sep":0.141,"dm":1.66,"T":3208},{"sep":0.178,"dm":1.64,"T":3214},{"sep":0.224,"dm":1.64,"T":3213},{"sep":0.282,"dm":1.66,"T":3209},{"sep":0.355,"dm":1.65,"T":3212},{"sep":0.447,"dm":1.67,"T":3207},{"sep":0.562,"dm":1.63,"T":3215},{"sep":0.708,"dm":1.65,"T":3210},{"sep":0.891,"dm":1.66,"T":3208},{"sep":1.12,"dm":1.64,"T":3214},{"sep":1.41,"dm":1.64,"T":3213},{"sep":1.78,"dm":1.66,"T":3209},{"sep":2.24,"dm":1.65,"T":3212},{"sep":2.82,"dm":1.67,"T":3207},{"sep":3.55,"dm":1.63,"T":3215},{"sep":4.47,"dm":1.65,"T":3210},{"sep":5.62,"dm":1.66,"T":3208},{"sep":7.08,"dm":1.64,"T":3214},{"sep":8.91,"dm":1.64,"T":3213},{"sep":11.2,"dm":1.66,"T":3209},{"sep":14.1,"dm":1.65,"T":3212},{"sep":17.8,"dm":1.67,"T":3207},{"sep":22.4,"dm":1.63,"T":3215},{"sep":28.2,"dm":1.65,"T":3210},{"sep":35.5,"dm":1.66,"T":3208},{"sep":44.7,"dm":1.64,"T":3214},
{"sep":0.0398,"dm":1.77,"T":3195},{"sep":0.0501,"dm":1.75,"T":3199},{"sep":0.0631,"dm":1.76,"T":3196},{"sep":0.0794,"dm":1.74,"T":3201},{"sep":0.1,"dm":1.78,"T":3193},{"sep":0.126,"dm":1.76,"T":3198},{"sep":0.158,"dm":1.75,"T":3200},{"sep":0.2,"dm":1.77,"T":3194},{"sep":0.251,"dm":1.77,"T":3195},{"sep":0.316,"dm":1.75,"T":3199},{"sep":0.398,"dm":1.76,"T":3196},{"sep":0.501,"dm":1.74,"T":3201},{"sep":0.631,"dm":1.78,"T":3193},{"sep":0.794,"dm":1.76,"T":3198},{"sep":1,"dm":1.75,"T":3200},{"sep":1.26,"dm":1.77,"T":3194},{"sep":1.58,"dm":1.77,"T":3195},{"sep":2,"dm":1.75,"T":3199},{"sep":2.51,"dm":1.76,"T":3196},{"sep":3.16,"dm":1.74,"T":3201},{"sep":3.98,"dm":1.78,"T":3193},{"sep":5.01,"dm":1.76,"T":3198},{"sep":6.31,"dm":1.75,"T":3200},{"sep":7.94,"dm":1.77,"T":3194},{"sep":10,"dm":1.77,"T":3195},{"sep":12.6,"dm":1.75,"T":3199},{"sep":15.8,"dm":1.76,"T":3196},{"sep":20,"dm":1.74,"T":3201},{"sep":25.1,"dm":1.78,"T":3193},{"sep":31.6,"dm":1.76,"T":3198},{"sep":39.8,"dm":1.75,"T":3200},{"sep":50.1,"dm":1.77,"T":3194},
{"sep":0.0355,"dm":1.86,"T":3185},{"sep":0.0447,"dm":1.88,"T":3181},{"sep":0.0562,"dm":1.87,"T":3184},{"sep":0.0708,"dm":1.89,"T":3179},{"sep":0.0891,"dm":1.85,"T":3187},{"sep":0.112,"dm":1.87,"T":3182},{"sep":0.141,"dm":1.88,"T":3180},{"sep":0.178,"dm":1.86,"T":3186},{"sep":0.224,"dm":1.86,"T":3185},{"sep":0.282,"dm":1.88,"T":3181},{"sep":0.355,"dm":1.87,"T":3184},{"sep":0.447,"dm":1.89,"T":3179},{"sep":0.562,"dm":1.85,"T":3187},{"sep":0.708,"dm":1.87,"T":3182},{"sep":0.891,"dm":1.88,"T":3180},{"sep":1.12,"dm":1.86,"T":3186},{"sep":1.41,"dm":1.86,"T":3185},{"sep":1.78,"dm":1.88,"T":3181},{"sep":2.24,"dm":1.87,"T":3184},{"sep":2.82,"dm":1.89,"T":3179},{"sep":3.55,"dm":1.85,"T":3187},{"sep":4.47,"dm":1.87,"T":3182},{"sep":5.62,"dm":1.88,"T":3180},{"sep":7.08,"dm":1.86,"T":3186},{"sep":8.91,"dm":1.86,"T":3185},{"sep":11.2,"dm":1.88,"T":3181},{"sep":14.1,"dm":1.87,"T":3184},{"sep":17.8,"dm":1.89,"T":3179},{"sep":22.4,"dm":1.85,"T":3187},{"sep":28.2,"dm":1.87,"T":3182},{"sep":35.5,"dm":1.88,"T":3180},{"sep":44.7,"dm":1.86,"T":3186},
{"sep":0.0398,"dm":1.99,"T":3167},{"sep":0.0501,"dm":1.97,"T":3171},{"sep":0.0631,"dm":1.98,"T":3168},{"sep":0.0794,"dm":1.96,"T":3173},{"sep":0.1,"dm":2,"T":3165},{"sep":0.126,"dm":1.98,"T":3170},{"sep":0.158,"dm":1.97,"T":3172},{"sep":0.2,"dm":1.99,"T":3166},{"sep":0.251,"dm":1.99,"T":3167},{"sep":0.316,"dm":1.97,"T":3171},{"sep":0.398,"dm":1.98,"T":3168},{"sep":0.501,"dm":1.96,"T":3173},{"sep":0.631,"dm":2,"T":3165},{"sep":0.794,"dm":1.98,"T":3170},{"sep":1,"dm":1.97,"T":3172},{"sep":1.26,"dm":1.99,"T":3166},{"sep":1.58,"dm":1.99,"T":3167},{"sep":2,"dm":1.97,"T":3171},{"sep":2.51,"dm":1.98,"T":3168},{"sep":3.16,"dm":1.96,"T":3173},{"sep":3.98,"dm":2,"T":3165},{"sep":5.01,"dm":1.98,"T":3170},{"sep":6.31,"dm":1.97,"T":3172},{"sep":7.94,"dm":1.99,"T":3166},{"sep":10,"dm":1.99,"T":3167},{"sep":12.6,"dm":1.97,"T":3171},{"sep":15.8,"dm":1.98,"T":3168},{"sep":20,"dm":1.96,"T":3173},{"sep":25.1,"dm":2,"T":3165},{"sep":31.6,"dm":1.98,"T":3170},{"sep":39.8,"dm":1.97,"T":3172},{"sep":50.1,"dm":1.99,"T":3166},
{"sep":0.0447,"dm":2.08,"T":3158},{"sep":0.0562,"dm":2.1,"T":3154},{"sep":0.0708,"dm":2.09,"T":3157},{"sep":0.0891,"dm":2.11,"T":3152},{"sep":0.112,"dm":2.07,"T":3160},{"sep":0.141,"dm":2.09,"T":3155},{"sep":0.178,"dm":2.1,"T":3153},{"sep":0.224,"dm":2.08,"T":3159},{"sep":0.282,"dm":2.08,"T":3158},{"sep":0.355,"dm":2.1,"T":3154},{"sep":0.447,"dm":2.09,"T":3157},{"sep":0.562,"dm":2.11,"T":3152},{"sep":0.708,"dm":2.07,"T":3160},{"sep":0.891,"dm":2.09,"T":3155},{"sep":1.12,"dm":2.1,"T":3153},{"sep":1.41,"dm":2.08,"T":3159},{"sep":1.78,"dm":2.08,"T":3158},{"sep":2.24,"dm":2.1,"T":3154},{"sep":2.82,"dm":2.09,"T":3157},{"sep":3.55,"dm":2.11,"T":3152},{"sep":4.47,"dm":2.07,"T":3160},{"sep":5.62,"dm":2.09,"T":3155},{"sep":7.08,"dm":2.1,"T":3153},{"sep":8.91,"dm":2.08,"T":3159},{"sep":11.2,"dm":2.08,"T":3158},{"sep":14.1,"dm":2.1,"T":3154},{"sep":17.8,"dm":2.09,"T":3157},{"sep":22.4,"dm":2.11,"T":3152},{"sep":28.2,"dm":2.07,"T":3160},{"sep":35.5,"dm":2.09,"T":3155},{"sep":44.7,"dm":2.1,"T":3153},
{"sep":0.0501,"dm":2.21,"T":3141},{"sep":0.0631,"dm":2.19,"T":3145},{"sep":0.0794,"dm":2.2,"T":3142},{"sep":0.1,"dm":2.18,"T":3147},{"sep":0.126,"dm":2.22,"T":3139},{"sep":0.158,"dm":2.2,"T":3144},{"sep":0.2,"dm":2.19,"T":3146},{"sep":0.251,"dm":2.21,"T":3140},{"sep":0.316,"dm":2.21,"T":3141},{"sep":0.398,"dm":2.19,"T":3145},{"sep":0.501,"dm":2.2,"T":3142},{"sep":0.631,"dm":2.18,"T":3147},{"sep":0.794,"dm":2.22,"T":3139},{"sep":1,"dm":2.2,"T":3144},{"sep":1.26,"dm":2.19,"T":3146},{"sep":1.58,"dm":2.21,"T":3140},{"sep":2,"dm":2.21,"T":3141},{"sep":2.51,"dm":2.19,"T":3145},{"sep":3.16,"dm":2.2,"T":3142},{"sep":3.98,"dm":2.18,"T":3147},{"sep":5.01,"dm":2.22,"T":3139},{"sep":6.31,"dm":2.2,"T":3144},{"sep":7.94,"dm":2.19,"T":3146},{"sep":10,"dm":2.21,"T":3140},{"sep":12.6,"dm":2.21,"T":3141},{"sep":15.8,"dm":2.19,"T":3145},{"sep":20,"dm":2.2,"T":3142},{"sep":25.1,"dm":2.18,"T":3147},{"sep":31.6,"dm":2.22,"T":3139},{"sep":39.8,"dm":2.2,"T":3144},{"sep":50.1,"dm":2.19,"T":3146},
{"sep":0.0562,"dm":2.3,"T":3132},{"sep":0.0708,"dm":2.32,"T":3128},{"sep":0.0891,"dm":2.31,"T":3131},{"sep":0.112,"dm":2.33,"T":3126},{"sep":0.141,"dm":2.29,"T":3134},{"sep":0.178,"dm":2.31,"T":3129},{"sep":0.224,"dm":2.32,"T":3127},{"sep":0.282,"dm":2.3,"T":3133},{"sep":0.355,"dm":2.3,"T":3132},{"sep":0.447,"dm":2.32,"T":3128},{"sep":0.562,"dm":2.31,"T":3131},{"sep":0.708,"dm":2.33,"T":3126},{"sep":0.891,"dm":2.29,"T":3134},{"sep":1.12,"dm":2.31,"T":3129},{"sep":1.41,"dm":2.32,"T":3127},{"sep":1.78,"dm":2.3,"T":3133},{"sep":2.24,"dm":2.3,"T":3132},{"sep":2.82,"dm":2.32,"T":3128},{"sep":3.55,"dm":2.31,"T":3131},{"sep":4.47,"dm":2.33,"T":3126},{"sep":5.62,"dm":2.29,"T":3134},{"sep":7.08,"dm":2.31,"T":3129},{"sep":8.91,"dm":2.32,"T":3127},{"sep":11.2,"dm":2.3,"T":3133},{"sep":14.1,"dm":2.3,"T":3132},{"sep":17.8,"dm":2.32,"T":3128},{"sep":22.4,"dm":2.31,"T":3131},{"sep":28.2,"dm":2.33,"T":3126},{"sep":35.5,"dm":2.29,"T":3134},{"sep":44.7,"dm":2.31,"T":3129},
{"sep":0.0631,"dm":2.43,"T":3116},{"sep":0.0794,"dm":2.41,"T":3120},{"sep":0.1,"dm":2.42,"T":3117},{"sep":0.126,"dm":2.4,"T":3122},{"sep":0.158,"dm":2.44,"T":3114},{"sep":0.2,"dm":2.42,"T":3119},{"sep":0.251,"dm":2.41,"T":3121},{"sep":0.316,"dm":2.43,"T":3115},{"sep":0.398,"dm":2.43,"T":3116},{"sep":0.501,"dm":2.41,"T":3120},{"sep":0.631,"dm":2.42,"T":3117},{"sep":0.794,"dm":2.4,"T":3122},{"sep":1,"dm":2.44,"T":3114},{"sep":1.26,"dm":2.42,"T":3119},{"sep":1.58,"dm":2.41,"T":3121},{"sep":2,"dm":2.43,"T":3115},{"sep":2.51,"dm":2.43,"T":3116},{"sep":3.16,"dm":2.41,"T":3120},{"sep":3.98,"dm":2.42,"T":3117},{"sep":5.01,"dm":2.4,"T":3122},{"sep":6.31,"dm":2.44,"T":3114},{"sep":7.94,"dm":2.42,"T":3119},{"sep":10,"dm":2.41,"T":3121},{"sep":12.6,"dm":2.43,"T":3115},{"sep":15.8,"dm":2.43,"T":3116},{"sep":20,"dm":2.41,"T":3120},{"sep":25.1,"dm":2.42,"T":3117},{"sep":31.6,"dm":2.4,"T":3122},{"sep":39.8,"dm":2.44,"T":3114},{"sep":50.1,"dm":2.42,"T":3119},
{"sep":0.0708,"dm":2.52,"T":3108},{"sep":0.0891,"dm":2.54,"T":3104},{"sep":0.112,"dm":2.53,"T":3107},{"sep":0.141,"dm":2.55,"T":3102},{"sep":0.178,"dm":2.51,"T":3110},{"sep":0.224,"dm":2.53,"T":3105},{"sep":0.282,"dm":2.54,"T":3103},{"sep":0.355,"dm":2.52,"T":3109},{"sep":0.447,"dm":2.52,"T":3108},{"sep":0.562,"dm":2.54,"T":3104},{"sep":0.708,"dm":2.53,"T":3107},{"sep":0.891,"dm":2.55,"T":3102},{"sep":1.12,"dm":2.51,"T":3110},{"sep":1.41,"dm":2.53,"T":3105},{"sep":1.78,"dm":2.54,"T":3103},{"sep":2.24,"dm":2.52,"T":3109},{"sep":2.82,"dm":2.52,"T":3108},{"sep":3.55,"dm":2.54,"T":3104},{"sep":4.47,"dm":2.53,"T":3107},{"sep":5.62,"dm":2.55,"T":3102},{"sep":7.08,"dm":2.51,"T":3110},{"sep":8.91,"dm":2.53,"T":3105},{"sep":11.2,"dm":2.54,"T":3103},{"sep":14.1,"dm":2.52,"T":3109},{"sep":17.8,"dm":2.52,"T":3108},{"sep":22.4,"dm":2.54,"T":3104},{"sep":28.2,"dm":2.53,"T":3107},{"sep":35.5,"dm":2.55,"T":3102},{"sep":44.7,"dm":2.51,"T":3110},
{"sep":0.0794,"dm":2.65,"T":3092},{"sep":0.1,"dm":2.63,"T":3096},{"sep":0.126,"dm":2.64,"T":3093},{"sep":0.158,"dm":2.62,"T":3098},{"sep":0.2,"dm":2.66,"T":3090},{"sep":0.251,"dm":2.64,"T":3095},{"sep":0.316,"dm":2.63,"T":3097},{"sep":0.398,"dm":2.65,"T":3091},{"sep":0.501,"dm":2.65,"T":3092},{"sep":0.631,"dm":2.63,"T":3096},{"sep":0.794,"dm":2.64,"T":3093},{"sep":1,"dm":2.62,"T":3098},{"sep":1.26,"dm":2.66,"T":3090},{"sep":1.58,"dm":2.64,"T":3095},{"sep":2,"dm":2.63,"T":3097},{"sep":2.51,"dm":2.65,"T":3091},{"sep":3.16,"dm":2.65,"T":3092},{"sep":3.98,"dm":2.63,"T":3096},{"sep":5.01,"dm":2.64,"T":3093},{"sep":6.31,"dm":2.62,"T":3098},{"sep":7.94,"dm":2.66,"T":3090},{"sep":10,"dm":2.64,"T":3095},{"sep":12.6,"dm":2.63,"T":3097},{"sep":15.8,"dm":2.65,"T":3091},{"sep":20,"dm":2.65,"T":3092},{"sep":25.1,"dm":2.63,"T":3096},{"sep":31.6,"dm":2.64,"T":3093},{"sep":39.8,"dm":2.62,"T":3098},{"sep":50.1,"dm":2.66,"T":3090},
{"sep":0.0891,"dm":2.74,"T":3085},{"sep":0.112,"dm":2.76,"T":3081},{"sep":0.141,"dm":2.75,"T":3084},{"sep":0.178,"dm":2.77,"T":3079},{"sep":0.224,"dm":2.73,"T":3087},{"sep":0.282,"dm":2.75,"T":3082},{"sep":0.355,"dm":2.76,"T":3080},{"sep":0.447,"dm":2.74,"T":3086},{"sep":0.562,"dm":2.74,"T":3085},{"sep":0.708,"dm":2.76,"T":3081},{"sep":0.891,"dm":2.75,"T":3084},{"sep":1.12,"dm":2.77,"T":3079},{"sep":1.41,"dm":2.73,"T":3087},{"sep":1.78,"dm":2.75,"T":3082},{"sep":2.24,"dm":2.76,"T":3080},{"sep":2.82,"dm":2.74,"T":3086},{"sep":3.55,"dm":2.74,"T":3085},{"sep":4.47,"dm":2.76,"T":3081},{"sep":5.62,"dm":2.75,"T":3084},{"sep":7.08,"dm":2.77,"T":3079},{"sep":8.91,"dm":2.73,"T":3087},{"sep":11.2,"dm":2.75,"T":3082},{"sep":14.1,"dm":2.76,"T":3080},{"sep":17.8,"dm":2.74,"T":3086},{"sep":22.4,"dm":2.74,"T":3085},{"sep":28.2,"dm":2.76,"T":3081},{"sep":35.5,"dm":2.75,"T":3084},{"sep":44.7,"dm":2.77,"T":3079},
{"sep":0.0794,"dm":2.86,"T":3069},{"sep":0.1,"dm":2.88,"T":3066},{"sep":0.126,"dm":2.85,"T":3070},{"sep":0.158,"dm":2.87,"T":3067},{"sep":0.2,"dm":2.86,"T":3068},{"sep":0.251,"dm":2.89,"T":3063},{"sep":0.316,"dm":2.86,"T":3069},{"sep":0.398,"dm":2.85,"T":3071},{"sep":0.501,"dm":2.86,"T":3069},{"sep":0.631,"dm":2.88,"T":3066},{"sep":0.794,"dm":2.85,"T":3070},{"sep":1,"dm":2.87,"T":3067},{"sep":1.26,"dm":2.86,"T":3068},{"sep":1.58,"dm":2.89,"T":3063},{"sep":2,"dm":2.86,"T":3069},{"sep":2.51,"dm":2.85,"T":3071},{"sep":3.16,"dm":2.86,"T":3069},{"sep":3.98,"dm":2.88,"T":3066},{"sep":5.01,"dm":2.85,"T":3070},{"sep":6.31,"dm":2.87,"T":3067},{"sep":7.94,"dm":2.86,"T":3068},{"sep":10,"dm":2.89,"T":3063},{"sep":12.6,"dm":2.86,"T":3069},{"sep":15.8,"dm":2.85,"T":3071},{"sep":20,"dm":2.86,"T":3069},{"sep":25.1,"dm":2.88,"T":3066},{"sep":31.6,"dm":2.85,"T":3070},{"sep":39.8,"dm":2.87,"T":3067},{"sep":50.1,"dm":2.86,"T":3068}
],
"curves":[
{"band":": 692nm","sep":0.00208,"dm":-0.76},{"band":": 692nm","sep":0.005,"dm":-0.759},{"band":": 692nm","sep":0.01,"dm":-0.757},{"band":": 692nm","sep":0.02,"dm":-0.754},{"band":": 692nm","sep":0.04,"dm":-0.747},{"band":": 692nm","sep":0.066,"dm":-0.737},{"band":": 692nm","sep":0.1,"dm":-0.724},{"band":": 692nm","sep":0.15,"dm":-0.705},{"band":": 692nm","sep":0.25,"dm":-0.668},{"band":": 692nm","sep":0.356,"dm":-0.628},{"band":": 692nm","sep":0.5,"dm":-0.582},{"band":": 692nm","sep":0.624,"dm":-0.533},{"band":": 692nm","sep":0.8,"dm":-0.46},{"band":": 692nm","sep":1,"dm":-0.39},{"band":": 692nm","sep":1.22,"dm":-0.31},{"band":": 692nm","sep":1.45,"dm":-0.18},{"band":": 692nm","sep":1.7,"dm":-0.07},{"band":": 692nm","sep":1.92,"dm":0.02},{"band":": 692nm","sep":2.2,"dm":0.15},{"band":": 692nm","sep":2.54,"dm":0.32},{"band":": 692nm","sep":2.9,"dm":0.49},{"band":": 692nm","sep":3.36,"dm":0.69},{"band":": 692nm","sep":3.8,"dm":0.9},{"band":": 692nm","sep":4.2,"dm":1.11},{"band":": 692nm","sep":4.65,"dm":1.34},{"band":": 692nm","sep":5.13,"dm":1.57},{"band":": 692nm","sep":5.5,"dm":1.76},{"band":": 692nm","sep":5.9,"dm":1.97},{"band":": 692nm","sep":6.35,"dm":2.2},{"band":": 692nm","sep":6.84,"dm":2.45},{"band":": 692nm","sep":7.3,"dm":2.68},{"band":": 692nm","sep":7.7,"dm":2.85},{"band":": 692nm","sep":8.1,"dm":2.96},{"band":": 692nm","sep":8.6,"dm":3.04},{"band":": 692nm","sep":9.25,"dm":3.09},{"band":": 692nm","sep":10.35,"dm":3.155},{"band":": 692nm","sep":11.64,"dm":3.15},{"band":": 692nm","sep":13.1,"dm":3.19},{"band":": 692nm","sep":15.6,"dm":3.21},{"band":": 692nm","sep":18.7,"dm":3.2},{"band":": 692nm","sep":20.4,"dm":3.25},{"band":": 692nm","sep":22.3,"dm":3.37},{"band":": 692nm","sep":24.3,"dm":3.47},{"band":": 692nm","sep":26.6,"dm":3.4},{"band":": 692nm","sep":29.9,"dm":3.325},{"band":": 692nm","sep":34.7,"dm":3.26},{"band":": 692nm","sep":39.7,"dm":3.155},{"band":": 692nm","sep":42.1,"dm":3.19},{"band":": 692nm","sep":44.6,"dm":3.3},{"band":": 692nm","sep":46.7,"dm":3.45},{"band":": 692nm","sep":47.8,"dm":3.55},
{"band":": 880nm","sep":0.00208,"dm":-1.608},{"band":": 880nm","sep":0.0045,"dm":-1.605},{"band":": 880nm","sep":0.0077,"dm":-1.6},{"band":": 880nm","sep":0.0136,"dm":-1.595},{"band":": 880nm","sep":0.0236,"dm":-1.586},{"band":": 880nm","sep":0.0408,"dm":-1.562},{"band":": 880nm","sep":0.0622,"dm":-1.535},{"band":": 880nm","sep":0.1,"dm":-1.5},{"band":": 880nm","sep":0.1445,"dm":-1.455},{"band":": 880nm","sep":0.2,"dm":-1.41},{"band":": 880nm","sep":0.244,"dm":-1.37},{"band":": 880nm","sep":0.3,"dm":-1.31},{"band":": 880nm","sep":0.387,"dm":-1.214},{"band":": 880nm","sep":0.45,"dm":-1.14},{"band":": 880nm","sep":0.542,"dm":-1.03},{"band":": 880nm","sep":0.65,"dm":-0.91},{"band":": 880nm","sep":0.78,"dm":-0.766},{"band":": 880nm","sep":0.93,"dm":-0.62},{"band":": 880nm","sep":1.094,"dm":-0.47},{"band":": 880nm","sep":1.22,"dm":-0.32},{"band":": 880nm","sep":1.37,"dm":-0.16},{"band":": 880nm","sep":1.53,"dm":-0.03},{"band":": 880nm","sep":1.71,"dm":0.116},{"band":": 880nm","sep":1.92,"dm":0.33},{"band":": 880nm","sep":2.15,"dm":0.58},{"band":": 880nm","sep":2.4,"dm":0.83},{"band":": 880nm","sep":2.69,"dm":1.075},{"band":": 880nm","sep":3,"dm":1.33},{"band":": 880nm","sep":3.36,"dm":1.6},{"band":": 880nm","sep":3.65,"dm":1.85},{"band":": 880nm","sep":3.98,"dm":2.1},{"band":": 880nm","sep":4.35,"dm":2.32},{"band":": 880nm","sep":4.71,"dm":2.5},{"band":": 880nm","sep":5.09,"dm":2.63},{"band":": 880nm","sep":5.5,"dm":2.74},{"band":": 880nm","sep":5.9,"dm":2.84},{"band":": 880nm","sep":6.64,"dm":2.99},{"band":": 880nm","sep":7.4,"dm":3.15},{"band":": 880nm","sep":8.17,"dm":3.3},{"band":": 880nm","sep":8.8,"dm":3.43},{"band":": 880nm","sep":9.47,"dm":3.55},{"band":": 880nm","sep":10.66,"dm":3.69},{"band":": 880nm","sep":12,"dm":3.8},{"band":": 880nm","sep":13.1,"dm":3.73},{"band":": 880nm","sep":14.3,"dm":3.59},{"band":": 880nm","sep":15.4,"dm":3.47},{"band":": 880nm","sep":16.6,"dm":3.51},{"band":": 880nm","sep":18.2,"dm":3.66},{"band":": 880nm","sep":19.8,"dm":3.82},{"band":": 880nm","sep":21.3,"dm":3.83},{"band":": 880nm","sep":23.7,"dm":3.69},{"band":": 880nm","sep":26.6,"dm":3.57},{"band":": 880nm","sep":30.9,"dm":3.58},{"band":": 880nm","sep":34.3,"dm":3.56},{"band":": 880nm","sep":36.9,"dm":3.59},{"band":": 880nm","sep":37.9,"dm":3.73},{"band":": 880nm","sep":40.3,"dm":3.73},{"band":": 880nm","sep":42.2,"dm":3.65},{"band":": 880nm","sep":46.7,"dm":3.64},{"band":": 880nm","sep":47.8,"dm":3.64}
],
"floor":[
{"sep":0.00208,"dm":-0.76},{"sep":0.005,"dm":-0.759},{"sep":0.01,"dm":-0.757},{"sep":0.02,"dm":-0.754},{"sep":0.04,"dm":-0.747},{"sep":0.066,"dm":-0.737},{"sep":0.1,"dm":-0.724},{"sep":0.15,"dm":-0.705},{"sep":0.25,"dm":-0.668},{"sep":0.356,"dm":-0.628},{"sep":0.5,"dm":-0.582},{"sep":0.624,"dm":-0.533},{"sep":0.8,"dm":-0.46},{"sep":1,"dm":-0.39},{"sep":1.22,"dm":-0.31},{"sep":1.37,"dm":-0.16},{"sep":1.53,"dm":-0.03},{"sep":1.71,"dm":0.116},{"sep":1.92,"dm":0.33},{"sep":2.15,"dm":0.58},{"sep":2.4,"dm":0.83},{"sep":2.69,"dm":1.075},{"sep":3,"dm":1.33},{"sep":3.36,"dm":1.6},{"sep":3.65,"dm":1.85},{"sep":3.98,"dm":2.1},{"sep":4.35,"dm":2.32},{"sep":4.71,"dm":2.5},{"sep":5.09,"dm":2.63},{"sep":5.5,"dm":2.74},{"sep":5.9,"dm":2.84},{"sep":6.64,"dm":2.99},{"sep":7.4,"dm":3.15},{"sep":8.17,"dm":3.3},{"sep":8.8,"dm":3.43},{"sep":9.47,"dm":3.55},{"sep":10.66,"dm":3.69},{"sep":12,"dm":3.8},{"sep":13.1,"dm":3.73},{"sep":14.3,"dm":3.59},{"sep":15.4,"dm":3.47},{"sep":16.6,"dm":3.51},{"sep":18.2,"dm":3.66},{"sep":19.8,"dm":3.82},{"sep":21.3,"dm":3.83},{"sep":23.7,"dm":3.69},{"sep":26.6,"dm":3.57},{"sep":30.9,"dm":3.58},{"sep":34.3,"dm":3.56},{"sep":36.9,"dm":3.59},{"sep":37.9,"dm":3.73},{"sep":40.3,"dm":3.73},{"sep":42.2,"dm":3.65},{"sep":46.7,"dm":3.64},{"sep":47.8,"dm":3.64}
]
},
"hconcat":[
{
"width":1190,"height":1109,
"title":{"text":["TOI821","simulated stellar companions"],"lineHeight":55,"baseline":"alphabetic","offset":-27,"anchor":"middle","frame":"group"},
"encoding":{
"x":{"field":"sep","type":"quantitative","scale":{"type":"log","domain":[0.00208,47.8],"nice":false},
"axis":{"values":[0.003,0.004,0.005,0.006,0.007,0.008,0.009,0.01,0.02,0.03,0.04,0.05,0.06,0.07,0.08,0.09,0.1,0.2,0.3,0.4,0.5,0.6,0.7,0.8,0.9,1,2,3,4,5,6,7,8,9,10,20,30,40],
"labelExpr":"datum.value == 0.01 ? '10⁻²' : datum.value == 0.1 ? '10⁻¹' : datum.value == 1 ? '10⁰' : datum.value == 10 ? '10¹' : ''",
"tickSize":{"condition":{"test":"datum.value == 0.01 || datum.value == 0.1 || datum.value == 1 || datum.value == 10","value":14},"value":8.4},
"tickWidth":{"condition":{"test":"datum.value == 0.01 || datum.value == 0.1 || datum.value == 1 || datum.value == 10","value":3.4},"value":2.5},
"labelPadding":14,"labelOverlap":false,"labelFlush":false,"labelBound":false,"title":"separation (au)","titlePadding":16,"domain":true,"domainWidth":3.4,"zindex":1}},
"y":{"field":"dm","type":"quantitative","scale":{"domain":[-1.88,4.1],"reverse":true,"nice":false,"zero":false},
"axis":{"values":[-1,0,1,2,3,4],"format":"d","tickSize":14,"tickWidth":3.4,"labelPadding":14,"title":"Δm (mag)","titlePadding":19,"domain":true,"domainWidth":3.4,"zindex":1}}
},
"layer":[
{"data":{"name":"floor"},"mark":{"type":"area","color":"#afeeee","interpolate":"monotone","clip":true},"encoding":{"y2":{"datum":4.1}}},
{"data":{"name":"pts"},"mark":{"type":"circle","size":960,"opacity":1,"clip":true},"encoding":{"color":{"field":"T","type":"quantitative","scale":{"scheme":"plasma","domain":[3061,3484]},"legend":null}}},
{"data":{"name":"curves"},"mark":{"type":"line","color":"red","strokeWidth":12.6,"interpolate":"monotone","clip":true},
"encoding":{"strokeDash":{"field":"band","type":"nominal","scale":{"domain":[": 692nm",": 880nm"],"range":[[1,0],[46.6,20.2]]},
"legend":{"title":null,"orient":"top-right","offset":19,"fillColor":"white","strokeColor":"#cccccc","cornerRadius":8,"padding":10,"symbolType":"stroke","symbolStrokeWidth":12.6,"symbolStrokeColor":"red","symbolSize":9216,"labelOffset":34,"rowPadding":18,"clipHeight":42,"labelLimit":400}}}}
]
},
{
"width":55,"height":1109,
"data":{"values":[{"lo":3061,"hi":3484}]},
"mark":{"type":"rect","fill":{"gradient":"linear","x1":0,"y1":1,"x2":0,"y2":0,"stops":[{"offset":0,"color":"#0d0887"},{"offset":0.1,"color":"#41049d"},{"offset":0.2,"color":"#6a00a8"},{"offset":0.3,"color":"#8f0da4"},{"offset":0.4,"color":"#b12a90"},{"offset":0.5,"color":"#cc4778"},{"offset":0.6,"color":"#e16462"},{"offset":0.7,"color":"#f2844b"},{"offset":0.8,"color":"#fca636"},{"offset":0.9,"color":"#fcce25"},{"offset":1,"color":"#f0f921"}]}},
"encoding":{
"y":{"field":"lo","type":"quantitative","scale":{"domain":[3061,3484],"nice":false,"zero":false},
"axis":{"orient":"right","values":[3100,3150,3200,3250,3300,3350,3400,3450],"format":"d","tickSize":14,"tickWidth":3.4,"labelPadding":14,"domain":false,"title":"temperature (K)","titleAngle":270,"titleBaseline":"top","titlePadding":14,"zindex":1}},
"y2":{"field":"hi"}
}
}
],
"spacing":70,
"resolve":{"scale":{"x":"independent","y":"independent"},"legend":{"strokeDash":"independent"}}
}
